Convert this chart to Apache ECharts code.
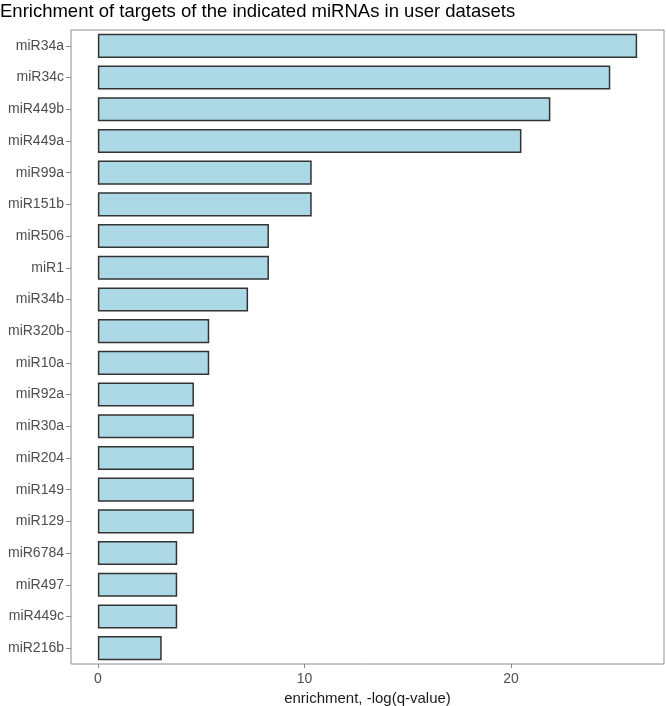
<!DOCTYPE html>
<html>
<head>
<meta charset="utf-8">
<script src="https://cdn.jsdelivr.net/npm/echarts@6/dist/echarts.min.js"></script>
<style>
  html, body { margin: 0; padding: 0; background: #fff; }
  #chart { width: 666px; height: 706px; }
</style>
</head>
<body>
<div id="chart"></div>
<script>
const mirnas = ['miR34a', 'miR34c', 'miR449b', 'miR449a', 'miR99a', 'miR151b', 'miR506', 'miR1', 'miR34b', 'miR320b',
  'miR10a', 'miR92a', 'miR30a', 'miR204', 'miR149', 'miR129', 'miR6784', 'miR497', 'miR449c', 'miR216b']
const enrichment = [26.1, 24.8, 21.9, 20.5, 10.35, 10.35, 8.28, 8.28, 7.27, 5.39,
  5.39, 4.65, 4.65, 4.65, 4.65, 4.65, 3.84, 3.84, 3.84, 3.09]
const xTicks = [0, 10, 20]

const chart = echarts.init(document.getElementById('chart'))
const font = 'Liberation Sans, Arial, sans-serif'

chart.setOption({
  animation: false,
  title: {
    text: 'Enrichment of targets of the indicated miRNAs in user datasets',
    left: 0,
    top: 2,
    padding: 0,
    textStyle: { fontFamily: font, fontSize: 18.5, fontWeight: 'normal', color: '#000' }
  },
  grid: {
    left: 71,
    right: 2,
    top: 30,
    bottom: 42,
    outerBoundsMode: 'none',
    show: true,
    borderColor: '#8c8c8c',
    borderWidth: 1
  },
  xAxis: {
    type: 'value',
    min: -1.3,
    max: 27.4,
    name: 'enrichment, -log(q-value)',
    nameLocation: 'middle',
    nameGap: 25,
    nameTextStyle: { fontFamily: font, fontSize: 15, color: '#1a1a1a' },
    axisLine: { show: false, onZero: false },
    splitLine: { show: false },
    axisTick: {
      show: true,
      length: 4,
      customValues: xTicks,
      lineStyle: { color: '#8c8c8c' }
    },
    axisLabel: {
      customValues: xTicks,
      fontFamily: font,
      fontSize: 14,
      color: '#4d4d4d',
      margin: 8
    }
  },
  yAxis: {
    type: 'category',
    data: mirnas,
    inverse: true,
    axisLine: { show: false, onZero: false },
    axisTick: {
      show: true,
      length: 5,
      alignWithLabel: true,
      lineStyle: { color: '#8c8c8c' }
    },
    axisLabel: {
      fontFamily: font,
      fontSize: 14,
      color: '#4d4d4d',
      margin: 7
    }
  },
  series: [{
    type: 'bar',
    data: enrichment,
    barWidth: '76%',
    itemStyle: {
      color: '#ADD8E6',
      borderColor: '#333',
      borderWidth: 1.5
    }
  }]
})
</script>
</body>
</html>
